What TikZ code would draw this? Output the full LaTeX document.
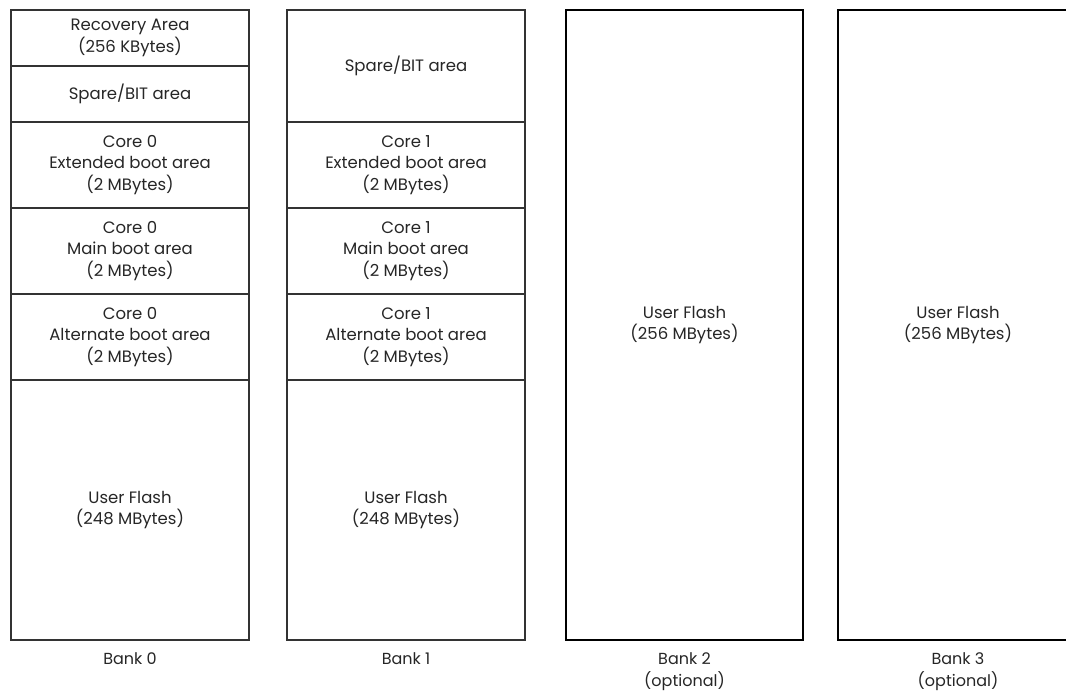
\documentclass[tikz,border=0pt]{standalone}
\usepackage{fontspec}
\setmainfont{Poppins}
\usetikzlibrary{positioning}

\begin{document}
\begin{tikzpicture}[
        x=1pt, y=1pt,
        node distance=0pt,
        region/.style={rectangle, draw=black!80, line width=1.5pt, outer sep=0pt,
                       inner sep=0pt, minimum width=238pt, align=center,
                       text=black!85, font=\fontsize{16.5}{21.5}\selectfont},
        bigregion/.style={region, draw=black, minimum height=630pt},
        banklabel/.style={align=center, text=black!85,
                          font=\fontsize{16}{22.5}\selectfont}
    ]
    \clip (0,0) rectangle (1066,-692);

    %% BANK 0
    \node[region, minimum height=56pt, anchor=north west] (recov0) at (11,-10)
          {Recovery Area\\(256 KBytes)};
    \node[region, minimum height=56pt, below=of recov0] (spare0) {Spare/BIT area};
    \node[region, minimum height=86pt, below=of spare0] (ext0)
          {Core 0\\Extended boot area\\(2 MBytes)};
    \node[region, minimum height=86pt, below=of ext0] (main0)
          {Core 0\\Main boot area\\(2 MBytes)};
    \node[region, minimum height=86pt, below=of main0] (alt0)
          {Core 0\\Alternate boot area\\(2 MBytes)};
    \node[region, minimum height=260pt, below=of alt0] (user0)
          {User Flash\\(248 MBytes)};
    \node[banklabel, below=9pt of user0] (bank0) {Bank 0};

    %% BANK 1
    \node[region, minimum height=112pt, anchor=north west] (spare1) at (287,-10)
          {Spare/BIT area};
    \node[region, minimum height=86pt, below=of spare1] (ext1)
          {Core 1\\Extended boot area\\(2 MBytes)};
    \node[region, minimum height=86pt, below=of ext1] (main1)
          {Core 1\\Main boot area\\(2 MBytes)};
    \node[region, minimum height=86pt, below=of main1] (alt1)
          {Core 1\\Alternate boot area\\(2 MBytes)};
    \node[region, minimum height=260pt, below=of alt1] (user1)
          {User Flash\\(248 MBytes)};
    \node[banklabel, below=9pt of user1] (bank1) {Bank 1};

    %% BANK 2 and BANK 3 (optional)
    \node[bigregion, minimum width=237pt, anchor=north west] (user2) at (566,-10)
          {User Flash\\(256 MBytes)};
    \node[banklabel, below=9pt of user2] (bank2) {Bank 2\\(optional)};

    \node[bigregion, minimum width=240pt, anchor=north west] (user3) at (838,-10)
          {User Flash\\(256 MBytes)};
    \node[banklabel, below=9pt of user3] (bank3) {Bank 3\\(optional)};

\end{tikzpicture}
\end{document}
